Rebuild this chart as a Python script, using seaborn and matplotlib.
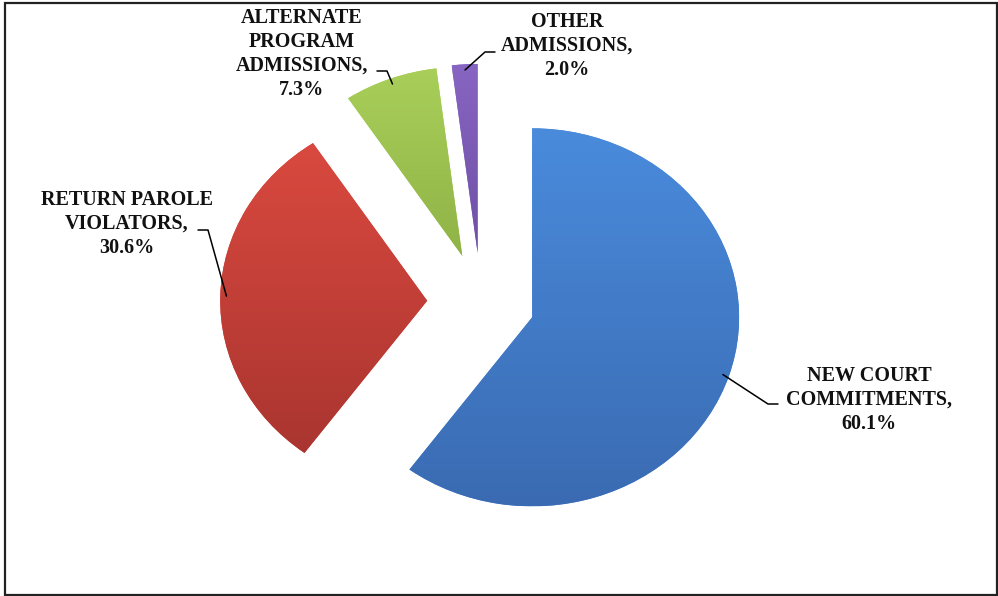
import numpy as np
import matplotlib
matplotlib.use("Agg")
import matplotlib.pyplot as plt
import matplotlib.patches as mpatches
from matplotlib.colors import to_rgb
import seaborn as sns

sns.set_theme(style="white")
plt.rcParams['font.family'] = ['Liberation Serif', 'DejaVu Serif']

# data
categories = ["NEW COURT\nCOMMITMENTS", "RETURN PAROLE\nVIOLATORS",
              "ALTERNATE\nPROGRAM\nADMISSIONS", "OTHER\nADMISSIONS"]
shares = [60.1, 30.6, 7.3, 2.0]

# colours (top / bottom of the shading)
light = ["#4a8bdc", "#d9493f", "#a9cf5a", "#8765c2"]
dark = ["#3a6bb2", "#aa3530", "#8fb346", "#6f4fa6"]

# layout in pixels (from the top-left corner of the picture)
W, H = 998, 596
CX, CY = 481, 302          # pie centre
SX, SY = 207, 189          # radius in px, horizontal / vertical
label_xy = [(869, 400), (127, 224), (302, 54), (567, 46)]
elbow_xy = [((768, 404), (778, 404)), ((208, 230), (198, 230)),
            ((387, 71), (377, 71)), ((485, 52), (495, 52))]

X0 = -CX / SX
Y1 = CY / SY


def px(x, y):
    return X0 + x / SX, Y1 - y / SY


fig = plt.figure(figsize=(W / 100, H / 100), dpi=100)
ax = fig.add_axes([0, 0, 1, 1])

wedges, _ = ax.pie(shares, startangle=90, counterclock=False,
                   explode=[0.26] * len(shares), colors=light,
                   wedgeprops=dict(linewidth=0))

# vertical shading inside every wedge
for w, c1, c2 in zip(wedges, light, dark):
    ext = w.get_path().get_extents()
    t = np.linspace(0, 1, 200)[:, None]
    grad = (1 - t) * np.array(to_rgb(c1)) + t * np.array(to_rgb(c2))
    ax.imshow(grad[:, None, :], extent=(ext.x0, ext.x1, ext.y0, ext.y1),
              origin='upper', aspect='auto', clip_path=w, zorder=2,
              interpolation='bilinear')

# labels with leader lines
for w, cat, val, lxy, (e1, e2) in zip(wedges, categories, shares,
                                      label_xy, elbow_xy):
    th = np.deg2rad((w.theta1 + w.theta2) / 2)
    ax_, ay_ = w.center[0] + 0.97 * w.r * np.cos(th), w.center[1] + 0.97 * w.r * np.sin(th)
    bx, by = px(*e1)
    cx_, cy_ = px(*e2)
    ax.plot([ax_, bx, cx_], [ay_, by, cy_], color='black', lw=1.1, zorder=3)
    tx, ty = px(*lxy)
    ax.text(tx, ty, f"{cat},\n{val:.1f}%", ha='center', va='center',
            multialignment='center', fontsize=14.5, fontweight='bold',
            linespacing=1.26, color='#111111', zorder=4)

ax.set_xlim(X0, X0 + W / SX)
ax.set_ylim(Y1 - H / SY, Y1)
ax.set_aspect('auto')
ax.axis('off')

fig.patches.append(mpatches.Rectangle((5 / W, 1 / H), 992 / W, 592 / H,
                                      transform=fig.transFigure, fill=False,
                                      lw=1.6, edgecolor='#222222'))

fig.savefig('out.png', dpi=100)
